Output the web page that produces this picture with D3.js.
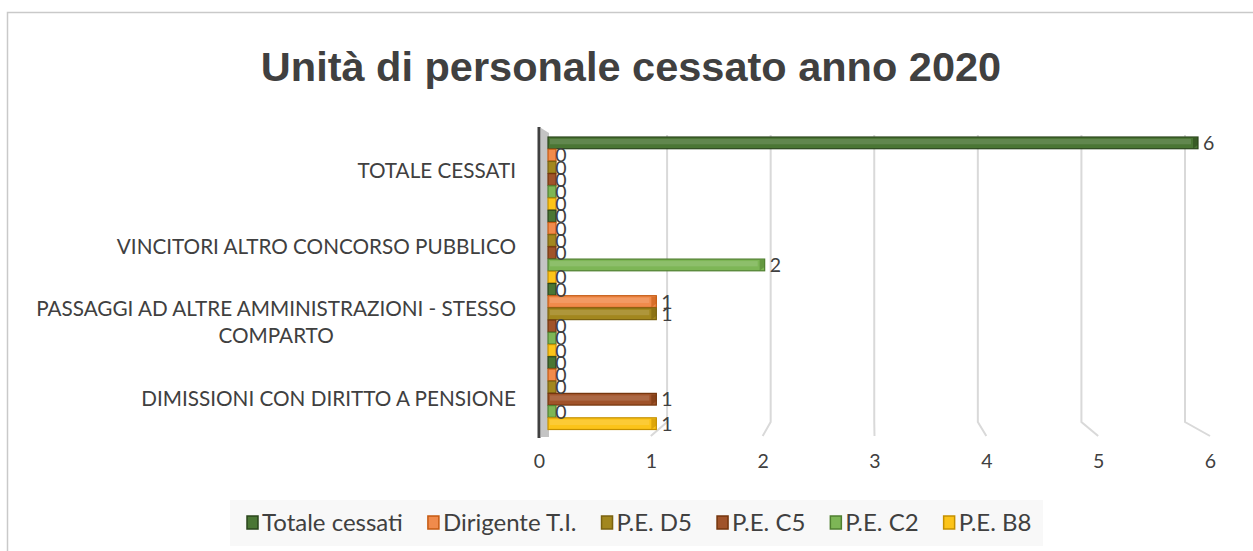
<!DOCTYPE html>
<html><head><meta charset="utf-8">
<script src="https://cdn.jsdelivr.net/npm/d3@7"></script>
<style>
body{margin:0;background:#fff;}
svg{display:block;}
text{font-family:Lato, "Open Sans", sans-serif;fill:#404040;}
</style></head>
<body>
<svg id="chart" width="1253" height="551"></svg>
<script>
const title = "Unità di personale cessato anno 2020";
const categories = ["TOTALE CESSATI","VINCITORI ALTRO CONCORSO PUBBLICO","PASSAGGI AD ALTRE AMMINISTRAZIONI - STESSO COMPARTO","DIMISSIONI CON DIRITTO A PENSIONE"];
const categoryLines = [["TOTALE CESSATI"],["VINCITORI ALTRO CONCORSO PUBBLICO"],["PASSAGGI AD ALTRE AMMINISTRAZIONI - STESSO","COMPARTO"],["DIMISSIONI CON DIRITTO A PENSIONE"]];
const seriesNames = ["Totale cessati","Dirigente T.I.","P.E. D5","P.E. C5","P.E. C2","P.E. B8"];
const totaleCessati = [6,0,0,0];
const dirigenteTI   = [0,0,1,0];
const peD5          = [0,0,1,0];
const peC5          = [0,0,0,1];
const peC2          = [0,2,0,0];
const peB8          = [0,0,0,1];
const xTicks = [0,1,2,3,4,5,6];
const seriesValues = [totaleCessati,dirigenteTI,peD5,peC5,peC2,peB8];
const fills   = ["#4a7634","#f08b4c","#a2871e","#a0532a","#7db656","#fcc419"];
const strokes = ["#2a451b","#c55a11","#7a6210","#74350c","#4f7f30","#c49000"];

const svg = d3.select("#chart");
// outer border
svg.append("rect").attr("x",7.5).attr("y",12.5).attr("width",1260).attr("height",560)
  .attr("fill","#fff").attr("stroke","#c9c9c9").attr("stroke-width",1.5);

svg.append("text").attr("x",631).attr("y",81).attr("text-anchor","middle")
  .style("font-family","'Liberation Sans', Arial, sans-serif").style("font-weight","bold")
  .style("font-size","41.5px").text(title);

const plotTop = 137, plotBottom = 430;
const yCat = d3.scaleBand().domain(categories).range([plotTop,plotBottom]).padding(0);
const ySer = d3.scaleBand().domain(seriesNames).range([0,yCat.bandwidth()]).padding(0);
const x = d3.scaleLinear().domain([0,6]).range([548,1198]);      // bar scale
const xBack = d3.scaleLinear().domain([0,6]).range([563.5,1185]); // back wall gridlines
const xFront = d3.scaleLinear().domain([0,6]).range([539,1210]);  // floor front edge

// gridlines
const g = svg.append("g");
xTicks.filter(d=>d>0).forEach(v=>{
  g.append("path").attr("d",`M${xBack(v)},${plotTop-2} L${xBack(v)},422 L${xFront(v)},436`)
    .attr("fill","none").attr("stroke","#d9d9d9").attr("stroke-width",2);
});

// axis tick labels
const xAxis = d3.axisBottom(xFront).tickValues(xTicks).tickSize(0).tickPadding(0).tickFormat(d3.format("d"));
const ax = svg.append("g").attr("transform","translate(0,454)").call(xAxis);
ax.select(".domain").remove();
ax.selectAll("text").style("font-size","19.5px").style("fill","#404040")
  .style("font-family","Lato, 'Open Sans', sans-serif");

// left wall
svg.append("polygon").attr("points","541,128 549,133 549,437 541,437").attr("fill","#c4c4c4");
svg.append("line").attr("x1",539).attr("x2",539).attr("y1",127).attr("y2",438)
  .attr("stroke","#404040").attr("stroke-width",3);

// bars
const data = [];
categories.forEach((c,ci)=>seriesNames.forEach((s,si)=>data.push({c,s,si,v:seriesValues[si][ci]})));
const bars = svg.append("g");
data.forEach(d=>{
  const y0 = yCat(d.c)+ySer(d.s);
  const h = ySer.bandwidth()-0.5;
  const x0 = x(0), x1 = Math.max(x(d.v), x0+8);
  const depth = 5;
  bars.append("rect").attr("x",x0).attr("y",y0).attr("width",x1-x0).attr("height",h)
    .attr("fill",fills[d.si]).attr("stroke",strokes[d.si]).attr("stroke-width",1.2);
  bars.append("rect").attr("x",x0+2).attr("y",y0+2).attr("width",Math.max(x1-x0-4-depth,0)).attr("height",h*0.45)
    .attr("fill","#fff").attr("opacity",0.13);
  if(d.v>0){
    bars.append("polygon")
      .attr("points",`${x1-depth},${y0+1} ${x1},${y0+1} ${x1},${y0+h-4} ${x1-depth},${y0+h}`)
      .attr("fill",strokes[d.si]).attr("opacity",0.55);
  }
});
// value labels
data.forEach(d=>{
  const y0 = yCat(d.c)+ySer(d.s)+ySer.bandwidth()/2;
  svg.append("text")
    .attr("x", d.v>0 ? x(d.v)+5 : 561)
    .attr("y", y0).attr("dy","0.36em")
    .attr("text-anchor", d.v>0 ? "start":"middle")
    .style("font-size", "19.5px").text(d.v);
});

// category labels
const labelOffsets = [-3,0,2,5];
categories.forEach((c,i)=>{
  const lines = categoryLines[i];
  const cy = yCat(c)+yCat.bandwidth()/2 + labelOffsets[i];
  const t = svg.append("text").attr("text-anchor","middle").style("font-size","20.7px");
  lines.forEach((ln,li)=>{
    t.append("tspan").attr("x",0).attr("y",cy+(li-(lines.length-1)/2)*27).attr("dy","0.35em").text(ln);
  });
  const w = d3.max(t.selectAll("tspan").nodes(), n=>n.getComputedTextLength());
  t.selectAll("tspan").attr("x",516 - w/2);
});

// legend
svg.append("rect").attr("x",230).attr("y",500).attr("width",813).attr("height",46).attr("fill","#f8f8f8");
const leg = svg.append("g").attr("transform","translate(247,0)");
let lx = 0;
seriesNames.forEach((s,i)=>{
  const it = leg.append("g");
  it.append("rect").attr("x",0).attr("y",-7).attr("width",11).attr("height",13)
    .attr("fill",fills[i]).attr("stroke",strokes[i]).attr("stroke-width",1.5);
  const t = it.append("text").attr("x",15).attr("y",0).attr("dy","0.35em").style("font-size","24px").text(s);
  const w = 15 + t.node().getComputedTextLength();
  it.attr("transform",`translate(${lx},523)`);
  lx += w + 25;
});
</script>
</body></html>
